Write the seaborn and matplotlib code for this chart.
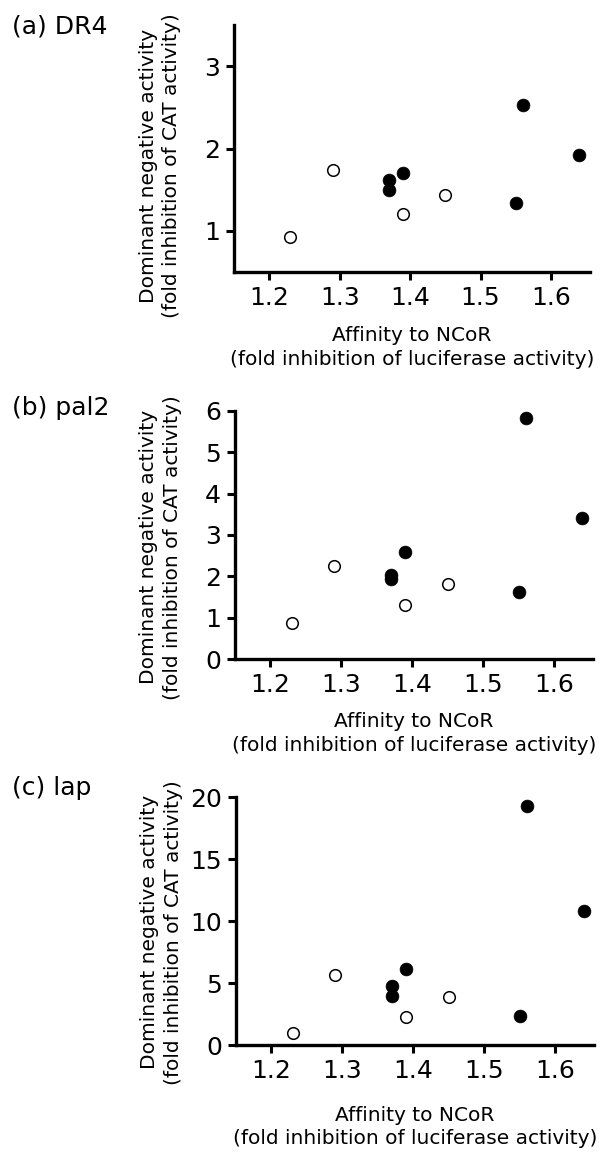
import matplotlib
matplotlib.use("Agg")
import matplotlib.pyplot as plt
import seaborn as sns
import pandas as pd

# ---- data ----
# affinity to NCoR (x), shared by all three panels
open_x = [1.23, 1.29, 1.39, 1.45]
filled_x = [1.37, 1.37, 1.39, 1.55, 1.56, 1.64]

# (a) DR4
dr4_open_y = [0.92, 1.74, 1.20, 1.43]
dr4_filled_y = [1.62, 1.49, 1.70, 1.34, 2.53, 1.92]

# (b) pal2
pal2_open_y = [0.86, 2.25, 1.31, 1.81]
pal2_filled_y = [2.04, 1.93, 2.59, 1.63, 5.84, 3.40]

# (c) lap
lap_open_y = [1.0, 5.63, 2.22, 3.86]
lap_filled_y = [4.79, 3.99, 6.16, 2.35, 19.26, 10.79]

panel_titles = ["(a) DR4", "(b) pal2", "(c) lap"]
x_ticks = [1.2, 1.3, 1.4, 1.5, 1.6]
x_tick_labels = ["1.2", "1.3", "1.4", "1.5", "1.6"]
y_ticks = [[1, 2, 3], [0, 1, 2, 3, 4, 5, 6], [0, 5, 10, 15, 20]]
y_limits = [(0.5, 3.5), (0, 6), (0, 20)]

xlabel = "Affinity to NCoR\n(fold inhibition of luciferase activity)"
ylabel = "Dominant negative activity\n(fold inhibition of CAT activity)"

sns.set_theme(style="ticks")
plt.rcParams["font.family"] = ["DejaVu Sans"]
plt.rcParams["text.color"] = "black"
plt.rcParams["axes.labelcolor"] = "black"

fig = plt.figure(figsize=(6.04, 11.57), dpi=100)

# axes boxes in figure fractions [left, bottom, width, height]
boxes = [
    [0.3874, 0.7649, 0.589, 0.2135],
    [0.389, 0.4304, 0.5927, 0.2144],
    [0.3907, 0.0968, 0.593, 0.2143],
]
title_y = [0.9775, 0.6474, 0.319]
ylabel_y = [0.43, 0.45, 0.455]
xlabel_y = [-0.305, -0.30, -0.33]

open_sets = [dr4_open_y, pal2_open_y, lap_open_y]
filled_sets = [dr4_filled_y, pal2_filled_y, lap_filled_y]

for i in range(3):
    ax = fig.add_axes(boxes[i])
    df_open = pd.DataFrame({"x": open_x, "y": open_sets[i]})
    df_fill = pd.DataFrame({"x": filled_x, "y": filled_sets[i]})

    sns.scatterplot(data=df_open, x="x", y="y", ax=ax, s=70, color="white",
                    edgecolor="black", linewidth=1.1, zorder=3, clip_on=False)
    sns.scatterplot(data=df_fill, x="x", y="y", ax=ax, s=85, color="black",
                    edgecolor="black", linewidth=0.5, zorder=3, clip_on=False)

    ax.set_xlim(1.15, 1.655)
    ax.set_ylim(*y_limits[i])
    ax.set_xticks(x_ticks)
    ax.set_xticklabels(x_tick_labels)
    ax.set_yticks(y_ticks[i])
    ax.set_yticklabels([str(v) for v in y_ticks[i]])

    sns.despine(ax=ax)
    for side in ["left", "bottom"]:
        ax.spines[side].set_linewidth(2.4)
        ax.spines[side].set_color("black")
    ax.tick_params(direction="out", length=6, width=2.2, labelsize=18,
                   pad=4, colors="black")

    ax.set_xlabel(xlabel, fontsize=14.5, linespacing=1.3)
    ax.xaxis.label.set(va="center")
    ax.xaxis.set_label_coords(0.5, xlabel_y[i])

    ax.set_ylabel(ylabel, fontsize=14.5, linespacing=1.3)
    ax.yaxis.label.set(va="center", ha="center", rotation_mode="default")
    ax.yaxis.set_label_coords(-0.208, ylabel_y[i])

    fig.text(0.02, title_y[i], panel_titles[i], fontsize=18,
             ha="left", va="center")

fig.savefig("out.png", dpi=100)
